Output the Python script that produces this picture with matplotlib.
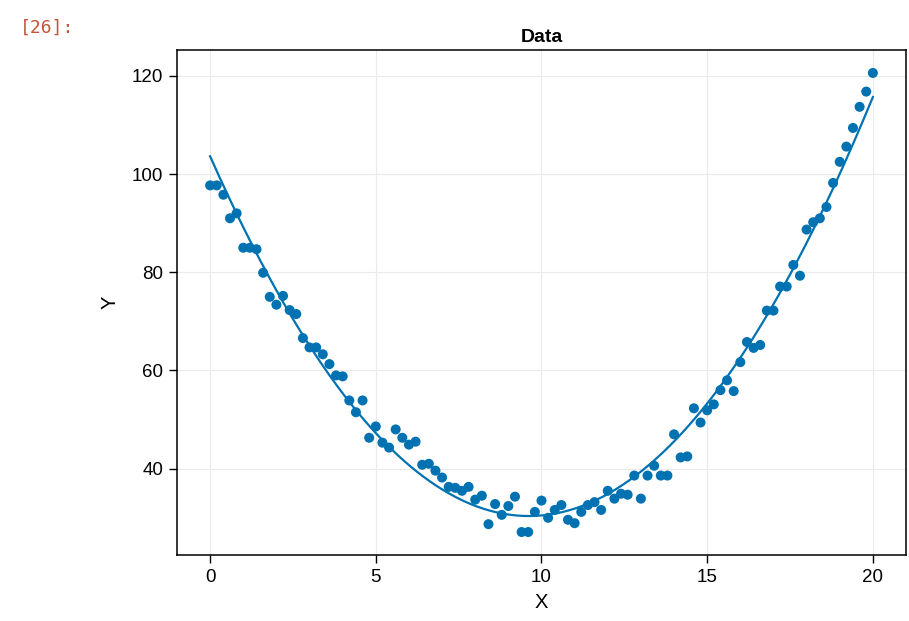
import matplotlib
matplotlib.use("Agg")
import matplotlib.pyplot as plt
import numpy as np

# data
x = np.round(np.arange(0, 20.01, 0.2), 1)
y = np.array([
    97.7, 97.7, 95.8, 91.0, 92.0, 85.0, 85.0, 84.7, 79.9, 75.0,
    73.4, 75.2, 72.3, 71.5, 66.6, 64.7, 64.7, 63.3, 61.3, 59.0,
    58.8, 53.9, 51.5, 53.9, 46.3, 48.6, 45.3, 44.3, 48.0, 46.3,
    44.9, 45.5, 40.8, 41.0, 39.6, 38.2, 36.3, 36.1, 35.5, 36.3,
    33.7, 34.5, 28.7, 32.8, 30.6, 32.4, 34.3, 27.1, 27.1, 31.2,
    33.5, 30.0, 31.6, 32.6, 29.6, 28.9, 31.2, 32.6, 33.2, 31.6,
    35.5, 33.9, 34.9, 34.7, 38.6, 33.9, 38.6, 40.6, 38.6, 38.6,
    47.0, 42.3, 42.5, 52.3, 49.4, 51.9, 53.1, 56.0, 58.0, 55.8,
    61.7, 65.8, 64.6, 65.2, 72.2, 72.2, 77.1, 77.1, 81.5, 79.3,
    88.7, 90.2, 91.0, 93.3, 98.2, 102.5, 105.6, 109.4, 113.7, 116.8,
    120.6,
])

xticks = [0, 5, 10, 15, 20]
yticks = [40, 60, 80, 100, 120]

# quadratic fit for the line
coef = np.polyfit(x, y, 2)
xf = np.linspace(0, 20, 200)
yf = np.polyval(coef, xf)

plt.rcParams['font.family'] = ['Liberation Sans', 'DejaVu Sans']

blue = '#0072B2'

fig = plt.figure(figsize=(9.09, 6.21), dpi=100)
ax = fig.add_axes([0.1947, 0.1063, 0.802, 0.8132])

ax.plot(xf, yf, color=blue, lw=1.6, zorder=2)
ax.scatter(x, y, s=52, color=blue, edgecolors='none', zorder=3)

ax.set_xticks(xticks)
ax.set_yticks(yticks)
ax.margins(0.05)
ax.grid(True, color='#e8ebe8', lw=0.8)
ax.set_axisbelow(True)

ax.tick_params(direction='out', length=6, width=1, labelsize=13.5, pad=4,
               top=False, right=False)
for s in ax.spines.values():
    s.set_linewidth(1.1)

ax.set_title('Data', fontsize=14, fontweight='bold', pad=6)
ax.set_xlabel('X', fontsize=14.5, labelpad=5)
ax.set_ylabel('Y', fontsize=14.5, labelpad=9)

fig.text(0.022, 0.955, '[26]:', color='#C4553A', fontsize=13,
         family='DejaVu Sans Mono', va='center')

fig.savefig('out.png', dpi=100)
